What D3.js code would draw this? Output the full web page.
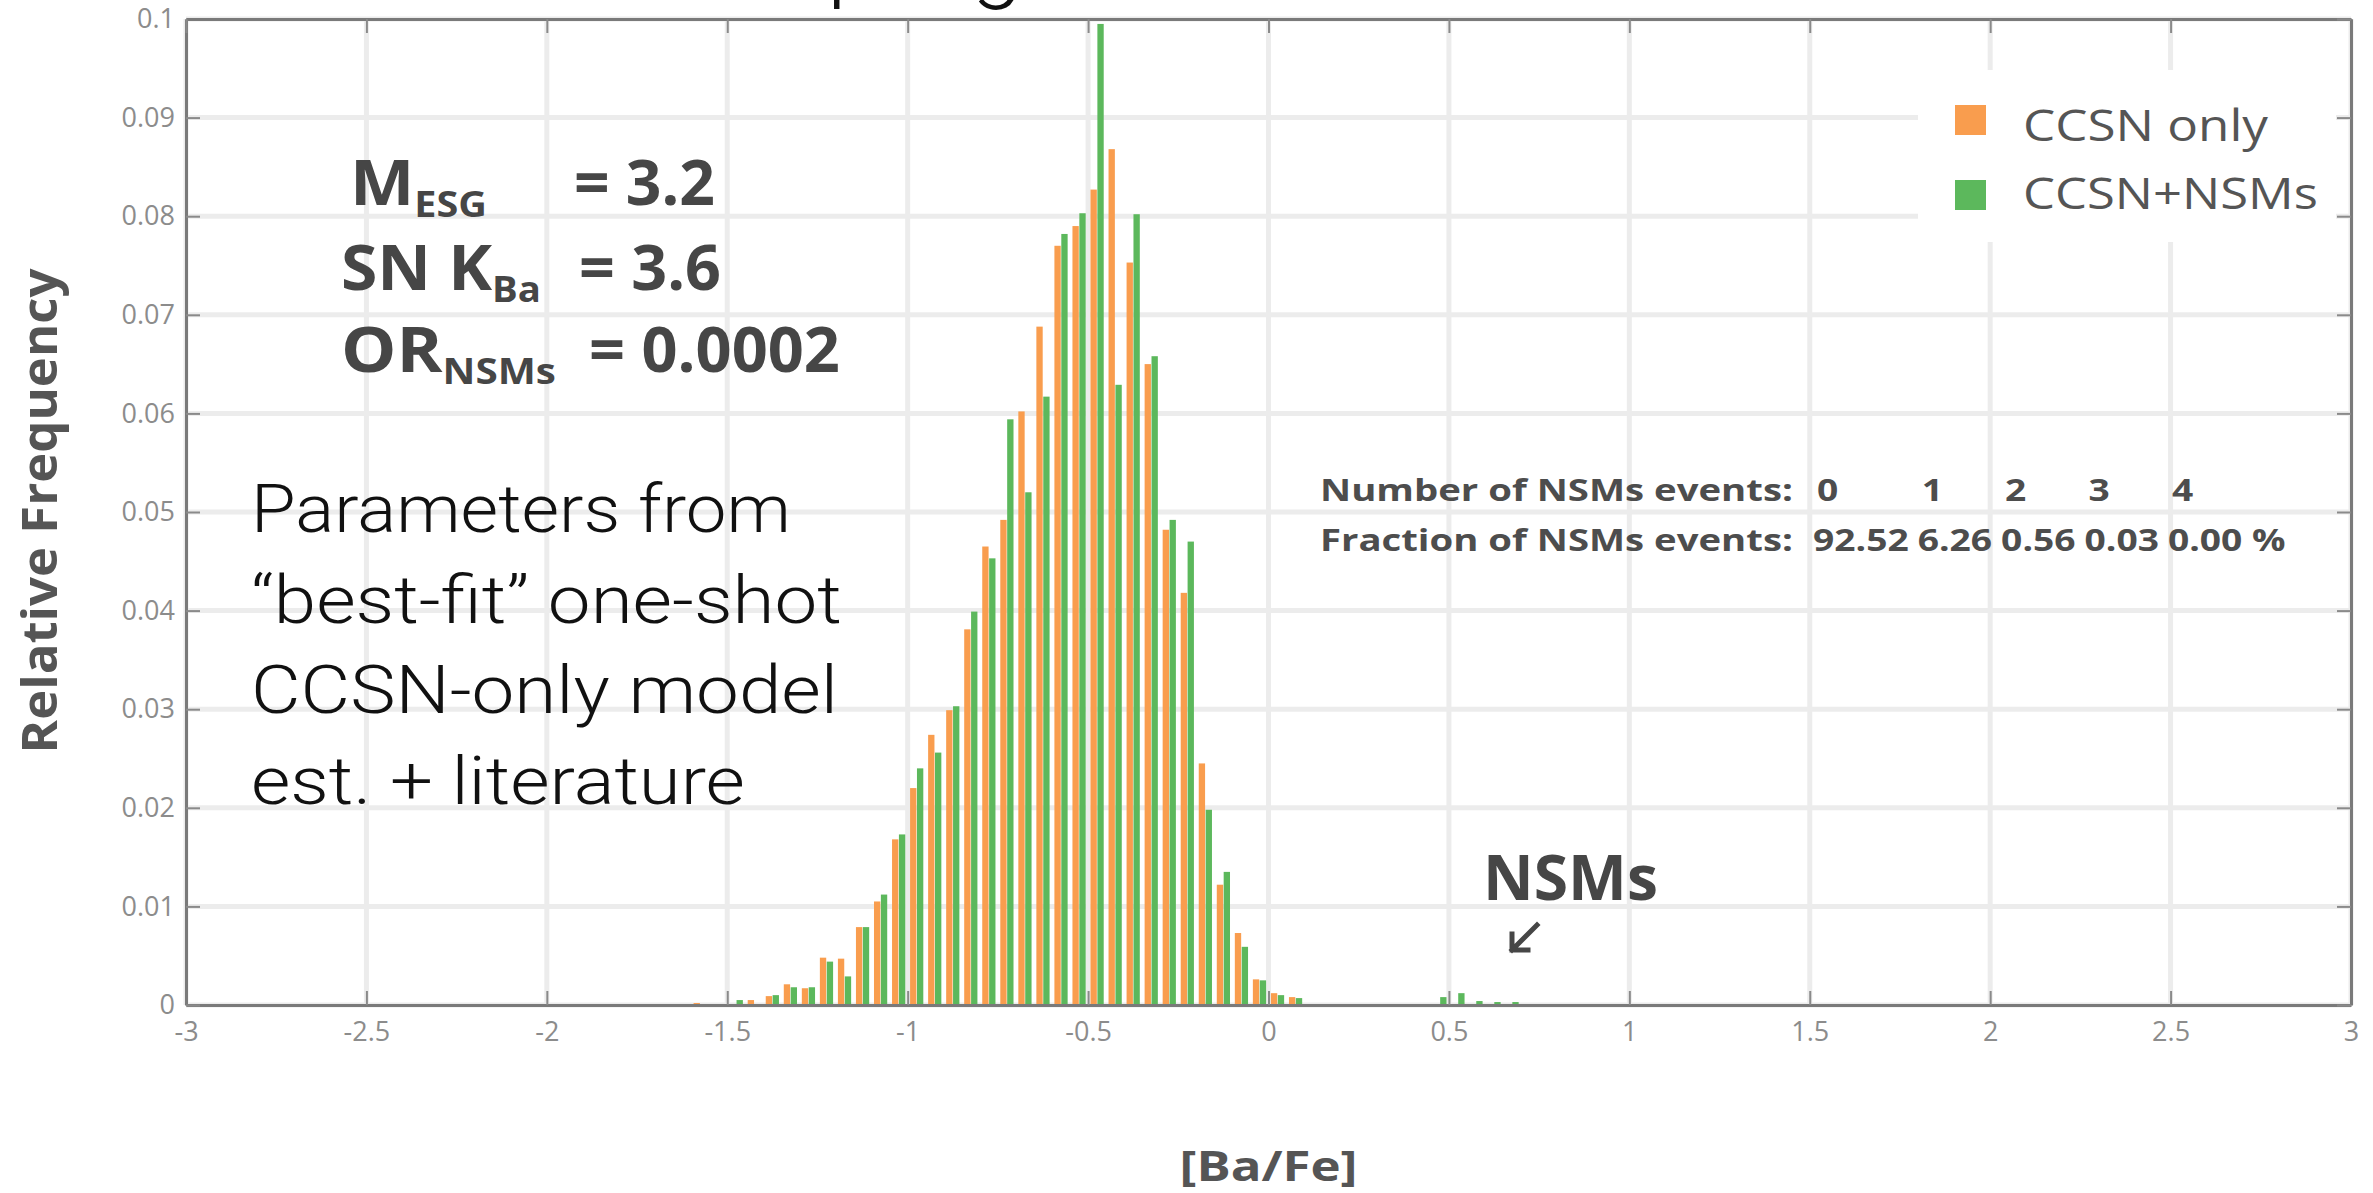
<!DOCTYPE html>
<html>
<head>
<meta charset="utf-8">
<script src="https://cdn.jsdelivr.net/npm/d3@7"></script>
<style>
  body { margin: 0; background: #fff; }
  svg { display: block; }
</style>
</head>
<body>
<script>
// histogram bins of [Ba/Fe], lower edges, width 0.05
const binStarts = [-1.60, -1.55, -1.50, -1.45, -1.40, -1.35, -1.30, -1.25, -1.20, -1.15,
                   -1.10, -1.05, -1.00, -0.95, -0.90, -0.85, -0.80, -0.75, -0.70, -0.65,
                   -0.60, -0.55, -0.50, -0.45, -0.40, -0.35, -0.30, -0.25, -0.20, -0.15,
                   -0.10, -0.05, 0.00, 0.05, 0.10, 0.15, 0.20, 0.25, 0.30, 0.35,
                   0.40, 0.45, 0.50, 0.55, 0.60, 0.65];
const binWidth = 0.05;

const ccsnOnly = [0.0002, 0, 0.0001, 0.0005, 0.0009, 0.0021, 0.0017, 0.0048, 0.0047, 0.0079,
                  0.0105, 0.0168, 0.0220, 0.0274, 0.0299, 0.0381, 0.0465, 0.0492, 0.0602, 0.0688,
                  0.0770, 0.0790, 0.0827, 0.0868, 0.0753, 0.0650, 0.0482, 0.0418, 0.0245, 0.0122,
                  0.0073, 0.0026, 0.0012, 0.0008, 0, 0, 0, 0, 0, 0,
                  0, 0, 0, 0, 0, 0];
const ccsnNsms = [0.0001, 0, 0.0005, 0.0001, 0.0010, 0.0018, 0.0018, 0.0044, 0.0029, 0.0079,
                  0.0112, 0.0173, 0.0240, 0.0256, 0.0303, 0.0399, 0.0453, 0.0594, 0.0520, 0.0617,
                  0.0782, 0.0803, 0.0995, 0.0629, 0.0802, 0.0658, 0.0492, 0.0470, 0.0198, 0.0135,
                  0.0059, 0.0025, 0.0010, 0.0007, 0, 0, 0, 0, 0, 0,
                  0, 0.0008, 0.0012, 0.0004, 0.0003, 0.0003];

const seriesNames = ["CCSN only", "CCSN+NSMs"];
const seriesColors = ["#f99d4e", "#5cb85c"];

const xTicks = [-3, -2.5, -2, -1.5, -1, -0.5, 0, 0.5, 1, 1.5, 2, 2.5, 3];
const yTicks = [0, 0.01, 0.02, 0.03, 0.04, 0.05, 0.06, 0.07, 0.08, 0.09, 0.1];

const nsmCounts = ["0", "1", "2", "3", "4"];
const nsmFractions = ["92.52", "6.26", "0.56", "0.03", "0.00 %"];

const W = 2373, H = 1193;

const svg = d3.select("body").append("svg")
  .attr("width", W)
  .attr("height", H);

svg.append("rect").attr("width", W).attr("height", H).attr("fill", "#fff");

const x = d3.scaleLinear().domain([-3, 3]).range([186, 2351]);
const y = d3.scaleLinear().domain([0, 0.1]).range([1005, 19]);

// text helper: draws at (x0,y0) and squeezes/stretches to a target width
function label(x0, y0, width, opts, parts) {
  const g = svg.append("g").attr("transform", "translate(" + x0 + "," + y0 + ")" + (opts.rotate ? " rotate(" + opts.rotate + ")" : ""));
  const t = g.append("text")
    .attr("font-family", opts.family || "Open Sans")
    .attr("font-size", opts.size)
    .attr("font-weight", opts.weight || 400)
    .attr("fill", opts.fill || "#4a4a4a")
    .attr("text-anchor", opts.anchor || "start");
  if (!Array.isArray(parts)) parts = [[parts, false]];
  let shift = 0;
  parts.forEach(([s, sub]) => {
    const ts = t.append("tspan").text(s);
    if (sub) {
      ts.attr("font-size", opts.size * 0.58).attr("dy", opts.size * 0.19 - shift);
      shift = opts.size * 0.19;
    } else if (shift) {
      ts.attr("dy", -shift);
      shift = 0;
    }
  });
  if (width) {
    const w = t.node().getComputedTextLength();
    t.attr("transform", "scale(" + (width / w) + ",1)");
  }
  return t;
}

// grid
svg.append("g").selectAll("line").data(xTicks).join("line")
  .attr("x1", d => x(d)).attr("x2", d => x(d))
  .attr("y1", y(0)).attr("y2", y(0.1))
  .attr("stroke", "#ececec").attr("stroke-width", 5);
svg.append("g").selectAll("line").data(yTicks).join("line")
  .attr("x1", x(-3)).attr("x2", x(3))
  .attr("y1", d => y(d)).attr("y2", d => y(d))
  .attr("stroke", "#ececec").attr("stroke-width", 5);

// bars
const bins = binStarts.map((b, i) => ({ b: b, vals: [ccsnOnly[i], ccsnNsms[i]] }));
const sub = d3.scaleBand().domain([0, 1])
  .range([0, x(binWidth) - x(0)])
  .paddingInner(0.08).paddingOuter(0.35);

svg.append("g").selectAll("g").data(bins).join("g")
  .attr("transform", d => "translate(" + x(d.b) + ",0)")
  .selectAll("rect").data(d => d.vals).join("rect")
  .attr("x", (d, i) => sub(i))
  .attr("width", sub.bandwidth())
  .attr("y", d => y(d))
  .attr("height", d => y(0) - y(d))
  .attr("fill", (d, i) => seriesColors[i]);

// axes with inner ticks on all four sides
const fmt = d => String(d);
function styleAxis(g) {
  g.select(".domain").attr("stroke", "#7a7a7a").attr("stroke-width", 3);
  g.selectAll(".tick line").attr("stroke", "#8a8a8a").attr("stroke-width", 2);
  g.selectAll(".tick text").attr("fill", "#8c8c8c")
    .attr("font-family", "Open Sans").attr("font-size", 27);
}
svg.append("g").attr("transform", "translate(0," + y(0) + ")")
  .call(d3.axisBottom(x).tickValues(xTicks).tickFormat(fmt).tickSizeInner(-14).tickSizeOuter(0).tickPadding(17))
  .call(styleAxis);
svg.append("g").attr("transform", "translate(" + x(-3) + ",0)")
  .call(d3.axisLeft(y).tickValues(yTicks).tickFormat(fmt).tickSizeInner(-14).tickSizeOuter(0).tickPadding(11))
  .call(styleAxis);
svg.append("g").attr("transform", "translate(0," + y(0.1) + ")")
  .call(d3.axisTop(x).tickValues(xTicks).tickFormat("").tickSizeInner(-14).tickSizeOuter(0))
  .call(styleAxis);
svg.append("g").attr("transform", "translate(" + x(3) + ",0)")
  .call(d3.axisRight(y).tickValues(yTicks).tickFormat("").tickSizeInner(-14).tickSizeOuter(0))
  .call(styleAxis);

// axis titles
label((x(-3) + x(3)) / 2, 1181, 178, { size: 42, weight: 700, fill: "#555", anchor: "middle" }, "[Ba/Fe]");
label(57, 511, 485, { size: 48, weight: 700, fill: "#555", anchor: "middle", rotate: -90 }, "Relative Frequency");

// legend
svg.append("rect").attr("x", 1918).attr("y", 70).attr("width", 418).attr("height", 172).attr("fill", "#fff");
const legendWidths = [245, 295];
seriesNames.forEach((name, i) => {
  svg.append("rect").attr("x", 1955).attr("y", 105 + i * 75).attr("width", 31).attr("height", 30)
    .attr("fill", seriesColors[i]);
  label(2023, 141 + i * 68, legendWidths[i], { size: 43, fill: "#555" }, name);
});

// model parameters
label(350, 205, 137, { size: 62, weight: 700, fill: "#464646" }, [["M", false], ["ESG", true]]);
label(574, 205, 141, { size: 62, weight: 700, fill: "#464646" }, "= 3.2");
label(341, 290, 200, { size: 62, weight: 700, fill: "#464646" }, [["SN K", false], ["Ba", true]]);
label(579, 290, 142, { size: 62, weight: 700, fill: "#464646" }, "= 3.6");
label(341, 372, 215, { size: 62, weight: 700, fill: "#464646" }, [["OR", false], ["NSMs", true]]);
label(589, 372, 251, { size: 62, weight: 700, fill: "#464646" }, "= 0.0002");

// slide note
const noteLines = ["Parameters from", "\u201cbest-fit\u201d one-shot", "CCSN-only model", "est. + literature"];
const noteWidths = [540, 591, 587, 494];
noteLines.forEach((s, i) => {
  label(251, 532 + i * 90.5, noteWidths[i], { size: 67, weight: 300, fill: "#111", family: "Roboto" }, s);
});

// cut-off slide title at the top edge
label(640, -10, 383, { size: 92, weight: 300, fill: "#111", family: "Roboto" }, "Sampling");

// NSM event table
const tbl = { size: 30, weight: 700, fill: "#4d4d4d" };
label(1320, 501, 473, tbl, "Number of NSMs events:");
label(1320, 551, 473, tbl, "Fraction of NSMs events:");
let cx = 1813;
nsmFractions.forEach((s, i) => {
  const t = label(cx, 551, null, tbl, s);
  const w = t.node().getComputedTextLength() * 1.24;
  t.attr("transform", "scale(1.24,1)");
  const c = label(cx + 4, 501, null, tbl, nsmCounts[i]);
  c.attr("transform", "scale(1.24,1)");
  cx += w + 9;
});

// NSMs arrow annotation
label(1483, 900, 175, { size: 62, weight: 700, fill: "#464646" }, "NSMs");
svg.append("path")
  .attr("d", "M1537,925 L1512,950 M1512,934 L1512,950 L1528,950")
  .attr("fill", "none").attr("stroke", "#464646").attr("stroke-width", 5)
  .attr("stroke-linecap", "square");
</script>
</body>
</html>
